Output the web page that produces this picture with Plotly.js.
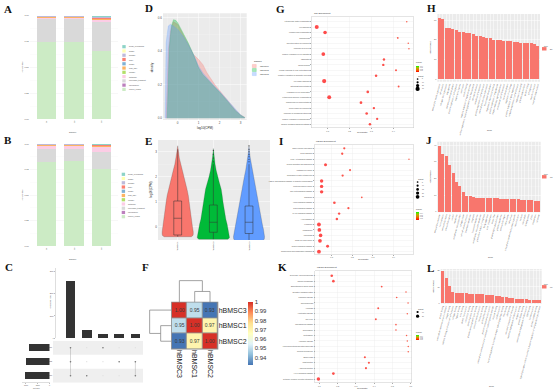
<!DOCTYPE html>
<html><head><meta charset="utf-8">
<script src="https://cdn.plot.ly/plotly-3.0.1.min.js"></script>
<style>html,body{margin:0;padding:0;background:#fff}#chart{width:554px;height:390px}</style>
</head><body><div id="chart"></div>
<script>
// ================= DATA =================
// A / B : biotype composition (legend order, top -> bottom)
const samples = ["S1","S2","S3"];
const biotypes = ["sense_overlapping","snRNA","snoRNA","rRNA","miRNA","misc_RNA","lincRNA","antisense","processed_transcript","pseudogene","protein_coding"];
const biotypeColors = ["#8dd3c7","#ffffb3","#bebada","#fb8072","#80b1d3","#fdb462","#b3de69","#fccde5","#d9d9d9","#bc80bd","#ccebc5"];
const fracA = [[.004,.003,.011],[.002,.003,.004],[.002,.002,.003],[.008,.006,.012],[.001,.001,.002],[.004,.004,.005],[.002,.002,.002],[.012,.012,.018],[.216,.222,.284],[.001,.001,.001],[.748,.743,.658]];
const fracB = [[.003,.003,.005],[.001,.001,.002],[.001,.001,.002],[.006,.006,.012],[.001,.001,.001],[.003,.003,.005],[.002,.002,.003],[.033,.028,.048],[.129,.121,.163],[.001,.001,.001],[.820,.833,.758]];
const pctTicks = [0,0.25,0.5,0.75,1];
const pctLabels = ["0.00","0.25","0.50","0.75","1.00"];

// C : UpSet
const setNames = ["hBMSC1","hBMSC2","hBMSC3"];
const setSizes = [2670,2930,3180];
const interSizes = [2590,360,170,165,160];
const interMembers = [[0,1,2],[2],[0],[1],[1,2]];

// D : density of log10(CPM)
const sampleNames = ["hBMSC1","hBMSC2","hBMSC3"];
const densX1 = [-0.55,-0.45,-0.35,-0.2,0,0.25,0.5,0.75,1.0,1.2,1.4,1.6,1.8,2.0,2.25,2.5,2.75,3.0,3.2];
const densY1 = [0,0.40,0.52,0.575,0.56,0.50,0.44,0.38,0.35,0.32,0.27,0.23,0.195,0.165,0.125,0.085,0.05,0.02,0.005];
const densX2 = [-0.5,-0.4,-0.3,-0.2,-0.1,0,0.25,0.5,0.75,1.0,1.2,1.4,1.6,1.8,2.0,2.25,2.5,2.75,3.0,3.2];
const densY2 = [0,0.42,0.55,0.588,0.585,0.57,0.51,0.45,0.38,0.30,0.26,0.235,0.21,0.18,0.155,0.12,0.08,0.045,0.018,0.004];
const densX3 = [-0.6,-0.55,-0.45,-0.35,-0.2,0,0.25,0.5,0.75,1.0,1.2,1.4,1.6,1.8,2.0,2.25,2.5,2.75,3.0,3.2];
const densY3 = [0,0.45,0.55,0.56,0.55,0.53,0.49,0.44,0.38,0.31,0.27,0.24,0.21,0.185,0.16,0.125,0.085,0.05,0.02,0.004];

// E : violin profiles (relative width) and box statistics
const vioY1 = [-0.4,-0.35,-0.3,-0.2,0,0.25,0.5,0.75,1.0,1.25,1.5,1.75,2.0,2.25,2.5,2.75,3.0,3.24];
const vioW1 = [0.85,0.95,0.97,0.97,0.92,0.87,0.83,0.78,0.72,0.66,0.58,0.48,0.38,0.28,0.18,0.10,0.05,0];
const vioY2 = [-0.5,-0.45,-0.4,-0.3,-0.1,0.1,0.3,0.5,0.75,1.0,1.25,1.5,1.75,2.0,2.25,2.5,2.75,3.0,3.13];
const vioW2 = [0.9,1.0,1.0,0.98,0.93,0.86,0.78,0.72,0.65,0.60,0.55,0.49,0.38,0.27,0.18,0.11,0.06,0.02,0];
const vioY3 = [-0.55,-0.5,-0.4,-0.3,-0.1,0.1,0.3,0.5,0.75,1.0,1.25,1.5,1.75,2.0,2.25,2.5,2.75,3.0,3.24];
const vioW3 = [0.85,0.95,0.97,0.96,0.90,0.83,0.77,0.72,0.66,0.60,0.52,0.44,0.36,0.29,0.21,0.14,0.08,0.03,0];
const boxQ1 = [-0.33,-0.22,-0.27];
const boxMed = [0.34,0.18,0.18];
const boxQ3 = [1.03,0.87,0.83];
const boxLo = [-0.4,-0.5,-0.55];
const boxHi = [3.1,2.5,2.5];
const outY2 = [2.6,2.75,2.9,3.05];
const outY3 = [2.6,2.7,2.8,2.9,3.0,3.1,3.24];

// F : correlation heatmap
const corrNames = ["hBMSC3","hBMSC1","hBMSC2"];
const corrZ = [[1.00,0.95,0.93],[0.95,1.00,0.97],[0.93,0.97,1.00]];
const mergeHeights = [0.03,0.06];
const corrTicks = [0.94,0.95,0.96,0.97,0.98,0.99,1];
const corrTickText = ["0.94","0.95","0.96","0.97","0.98","0.99","1"];

// G : GO enrichment dot plot
const gTerms = ["extracellular matrix organization","cell adhesion","collagen fibril organization","angiogenesis","skeletal system development","response to hypoxia","positive regulation of cell migration","ossification","wound healing","cellular response to TGF-beta stimulus","negative regulation of apoptotic process","cell-matrix adhesion","osteoblast differentiation","regulation of cell proliferation","extracellular structure organization","endodermal cell differentiation","blood vessel development","response to mechanical stimulus","positive regulation of angiogenesis","integrin-mediated signaling pathway"];
const gRatio = [0.461,0.050,0.088,0.420,0.468,0.471,0.080,0.357,0.354,0.412,0.321,0.084,0.424,0.283,0.107,0.252,0.311,0.278,0.326,0.293];
const gCount = [3,28,24,6,3,3,25,12,12,8,13,30,7,14,27,15,12,14,11,13];
const gP = [0.004,0.0002,0.0003,0.003,0.004,0.004,0.0003,0.001,0.001,0.002,0.001,0.0001,0.002,0.001,0.0002,0.001,0.001,0.001,0.001,0.001];

// I : KEGG enrichment dot plot
const iTerms = ["ECM-receptor interaction","Focal adhesion","PI3K-Akt signaling pathway","Protein digestion and absorption","Pathways in cancer","Regulation of actin cytoskeleton","AGE-RAGE signaling pathway in diabetic complications","Proteoglycans in cancer","TGF-beta signaling pathway","Ribosome","Hippo signaling pathway","Rap1 signaling pathway","MAPK signaling pathway","Axon guidance","Lysosome","Phagosome","Amoebiasis","Small cell lung cancer","Relaxin signaling pathway","Complement and coagulation cascades"];
const iRatio = [0.161,0.151,0.475,0.070,0.189,0.153,0.051,0.051,0.051,0.246,0.113,0.181,0.136,0.125,0.038,0.040,0.046,0.043,0.080,0.038];
const iCount = [10,11,2,18,9,11,22,22,22,5,14,10,12,13,26,25,24,25,17,26];
const iP = [0.002,0.002,0.004,0.0005,0.002,0.002,0.0002,0.0002,0.0002,0.003,0.001,0.002,0.001,0.001,0.0001,0.0001,0.0001,0.0001,0.0005,0.0001];

// K : enrichment dot plot
const kTerms = ["Glycolysis / Gluconeogenesis","Carbon metabolism","Biosynthesis of amino acids","Oxidative phosphorylation","Parkinson disease","Thermogenesis","Apoptosis","Huntington disease","Cell cycle","p53 signaling pathway","Spliceosome","Proteasome","Alzheimer disease","Fluid shear stress and atherosclerosis","Cellular senescence","Endocytosis","Tight junction","Adherens junction","HIF-1 signaling pathway","Cytokine-cytokine receptor interaction"];
const kRatio = [0.168,0.177,0.441,0.574,0.523,0.585,0.422,0.581,0.409,0.519,0.519,0.577,0.581,0.586,0.586,0.349,0.371,0.355,0.177,0.095];
const kCount = [14,14,6,3,4,3,7,3,7,4,4,3,3,3,3,9,9,9,15,22];
const kP = [0.001,0.001,0.002,0.004,0.003,0.004,0.002,0.004,0.002,0.003,0.003,0.004,0.004,0.004,0.004,0.002,0.002,0.002,0.001,0.0002];

// H / J / L : bar charts of top terms
const hTerms = ["extracellular matrix organization","cell adhesion","collagen fibril organization","angiogenesis","skeletal system development","positive regulation of cell migration","response to hypoxia","ossification","wound healing","negative regulation of apoptotic process","cellular response to transforming growth factor beta stimulus","cell-matrix adhesion","osteoblast differentiation","positive regulation of cell proliferation","extracellular structure organization","blood vessel development","response to mechanical stimulus","positive regulation of angiogenesis","integrin-mediated signaling pathway","endodermal cell differentiation","heart development","regulation of cell shape","positive regulation of gene expression","negative regulation of cell proliferation","response to wounding","platelet degranulation","protein folding","cell migration","muscle contraction","neutrophil degranulation"];
const hVal = [31.2,30.3,25.8,25.8,25.2,24.9,23.7,23.7,23.6,23.4,23.0,21.9,21.9,21.5,21.0,21.0,19.8,19.8,19.8,19.5,19.5,19.3,19.0,18.6,18.5,18.5,18.5,18.1,17.8,16.9];
const jTerms = ["extracellular exosome","focal adhesion","extracellular matrix","extracellular space","cytosol","membrane","endoplasmic reticulum lumen","collagen trimer","cell-cell adherens junction","basement membrane","cytoplasm","lysosomal membrane","endoplasmic reticulum membrane","perinuclear region of cytoplasm","Golgi apparatus","actin cytoskeleton","stress fiber","platelet alpha granule lumen","plasma membrane","extracellular region","melanosome","cell surface","intracellular membrane-bounded organelle","mitochondrion","nucleus","microtubule","lamellipodium","Z disc","cytoskeleton","ribosome"];
const jVal = [39.6,34.4,33.4,28.0,23.4,18.0,15.4,12.0,9.6,9.4,9.0,8.4,8.4,8.2,8.2,8.0,8.0,8.0,7.8,7.8,7.6,7.6,7.4,7.4,7.2,7.2,7.0,6.8,6.6,6.4];
const lTerms = ["protein binding","extracellular matrix structural constituent","integrin binding","cadherin binding involved in cell-cell adhesion","collagen binding","heparin binding","actin binding","growth factor activity","calcium ion binding","identical protein binding","platelet-derived growth factor binding","structural molecule activity","fibronectin binding","poly(A) RNA binding","protein homodimerization activity","extracellular matrix structural constituent conferring tensile strength","enzyme binding","cytokine activity","transforming growth factor beta receptor signaling pathway binding","RNA binding","ATP binding","structural constituent of ribosome","metalloendopeptidase inhibitor activity","receptor binding","protein kinase binding","serine-type endopeptidase inhibitor activity","GTP binding","hormone activity","protein complex binding","signaling receptor activity involved in positive regulation of cell population proliferation"];
const lVal = [20.0,15.3,10.6,6.7,6.5,6.1,6.1,6.1,5.9,5.7,5.7,5.5,5.5,5.1,5.1,5.1,4.7,4.5,4.0,3.7,3.4,3.1,2.8,2.6,2.5,2.5,2.2,2.2,2.0,2.0];

// ================= HELPERS =================
const W=554, H=390;
const dX=(a,b)=>[a/W,b/W];
const dY=(t,b)=>[1-b/H,1-t/H];
const FONT='Liberation Sans, Arial, sans-serif';
const TXT='#4d4d4d';
const traces=[], shapes=[], annotations=[];
function ax(o){return Object.assign({showgrid:false,zeroline:false,showline:false,ticks:'',showticklabels:false,fixedrange:true,automargin:false,tickfont:{size:2.2,color:TXT}},o);}
function txt(x,y,t,o){annotations.push(Object.assign({xref:'paper',yref:'paper',x:x/W,y:1-y/H,text:t,showarrow:false,font:{size:2.2,color:TXT},xanchor:'center',yanchor:'middle'},o||{}));}
function rect(x0,y0,x1,y1,fill,o){shapes.push(Object.assign({type:'rect',xref:'paper',yref:'paper',x0:x0/W,x1:x1/W,y0:1-y1/H,y1:1-y0/H,fillcolor:fill,line:{width:0},layer:'below'},o||{}));}
function circ(cx,cy,d,fill){const r=d/2;shapes.push({type:'circle',xref:'paper',yref:'paper',x0:(cx-r)/W,x1:(cx+r)/W,y0:1-(cy+r)/H,y1:1-(cy-r)/H,fillcolor:fill,line:{width:0},layer:'above'});}
const gridW={showgrid:true,gridcolor:'#ffffff',gridwidth:0.5};
const sizeOf=c=>1.2+0.1*c;
const pScale=[[0,'#ff0000'],[0.25,'#f25500'],[0.5,'#d98e00'],[0.75,'#9fc400'],[1,'#00ff00']];

const layout={width:W,height:H,margin:{l:0,r:0,t:0,b:0,autoexpand:false},paper_bgcolor:'#ffffff',plot_bgcolor:'rgba(0,0,0,0)',
  showlegend:false,hovermode:false,barmode:'stack',font:{family:FONT,size:3,color:TXT}};

// ================= A & B =================
function stackPanel(frac,xa,ya){
  for(let k=biotypes.length-1;k>=0;k--){
    traces.push({type:'bar',x:[0,1,2],y:frac[k],xaxis:xa,yaxis:ya,width:0.7,marker:{color:biotypeColors[k],line:{width:0}},hoverinfo:'skip'});
  }
}
stackPanel(fracA,'x','y');
stackPanel(fracB,'x2','y2');
const pctY=o=>ax(Object.assign({range:[0,1],tickvals:pctTicks,ticktext:pctLabels,showticklabels:true,showgrid:true,gridcolor:'#ebebeb',gridwidth:0.4,
  minor:{tickvals:[0.125,0.375,0.625,0.875],showgrid:true,gridcolor:'#f4f4f4',gridwidth:0.3}},o));
const smpX=o=>ax(Object.assign({range:[-0.6,2.6],tickvals:[0,1,2],ticktext:samples,showticklabels:true,tickangle:-90},o));
layout.xaxis=smpX({domain:dX(29.8,118),anchor:'y'});
layout.yaxis=pctY({domain:dY(15.7,119),anchor:'x'});
layout.xaxis2=smpX({domain:dX(29.8,118),anchor:'y2'});
layout.yaxis2=pctY({domain:dY(144,246),anchor:'x2'});
txt(21.5,67,'percentage',{textangle:-90});
txt(73,131.5,'Sample');
txt(21.5,195,'percentage',{textangle:-90});
txt(73,258.5,'Sample');
function biotypeLegend(x,y0,step){
  biotypes.forEach((b,k)=>{const y=y0+k*step;rect(x,y-1.6,x+3.4,y+1.6,biotypeColors[k],{layer:'above'});txt(x+4.4,y,b,{xanchor:'left',font:{size:1.8,color:TXT}});});
}
biotypeLegend(122.3,46.7,4.27);
biotypeLegend(121.7,174.3,4.24);

// ================= C (UpSet) =================
traces.push({type:'bar',x:interSizes.map((_,i)=>i),y:interSizes,xaxis:'x3',yaxis:'y3',width:0.6,marker:{color:'#333333',line:{width:0}}});
layout.xaxis3=ax({domain:dX(53,143),range:[-1.08,4.47],anchor:'y3'});
layout.yaxis3=ax({domain:dY(268,338),range:[0,3167],anchor:'free',position:55/W,tickvals:[0,1000,2000,3000],showticklabels:true,showline:true,linecolor:'#bdbdbd',linewidth:0.5,ticks:'outside',ticklen:1,tickcolor:'#bdbdbd',tickfont:{size:1.8,color:TXT}});
[0,2].forEach(r=>shapes.push({type:'rect',xref:'paper',yref:'y4',x0:53/W,x1:143/W,y0:r-0.5,y1:r+0.5,fillcolor:'#efefef',line:{width:0},layer:'below'}));
const gx=[],gy=[];interSizes.forEach((_,c)=>setNames.forEach((_,r)=>{gx.push(c);gy.push(r);}));
traces.push({type:'scatter',mode:'markers',x:gx,y:gy,xaxis:'x4',yaxis:'y4',marker:{size:1.3,color:'#e0e0e0'}});
const lx=[],ly=[],ax2=[],ay2=[];
interMembers.forEach((m,c)=>{m.forEach(r=>{ax2.push(c);ay2.push(r);}); if(m.length>1){lx.push(c,c,null);ly.push(Math.min(...m),Math.max(...m),null);} });
traces.push({type:'scatter',mode:'lines',x:lx,y:ly,xaxis:'x4',yaxis:'y4',line:{color:'#9a9a9a',width:0.4}});
traces.push({type:'scatter',mode:'markers',x:ax2,y:ay2,xaxis:'x4',yaxis:'y4',marker:{size:1.6,color:'#777'}});
layout.xaxis4=ax({domain:dX(53,143),range:[-1.08,4.47],anchor:'y4'});
layout.yaxis4=ax({domain:dY(340.7,382.7),range:[2.5,-0.5],anchor:'x4',tickvals:[0,1,2],ticktext:setNames,showticklabels:true,tickfont:{size:1.8,color:TXT}});
traces.push({type:'bar',orientation:'h',x:setSizes,y:[0,1,2],xaxis:'x5',yaxis:'y5',width:0.48,marker:{color:'#333333',line:{width:0}}});
layout.xaxis5=ax({domain:dX(22,49.5),range:[3500,0],anchor:'y5',tickvals:[0,1500,3000],showticklabels:true,showline:true,linecolor:'#bdbdbd',linewidth:0.5,ticks:'outside',ticklen:1,tickcolor:'#bdbdbd',tickfont:{size:1.8,color:TXT}});
layout.yaxis5=ax({domain:dY(340.7,382.7),range:[2.5,-0.5],anchor:'x5'});
txt(49.5,302,'Intersection Size',{textangle:-90,font:{size:1.8,color:TXT}});
txt(36,388,'Set Size',{font:{size:1.8,color:TXT}});

// ================= D (density) =================
rect(163,13.3,246.7,120,'#ebebeb');
const sCol=['248,118,109','0,186,56','97,156,255'];
[[densX1,densY1],[densX2,densY2],[densX3,densY3]].forEach((d,i)=>{
  traces.push({type:'scatter',mode:'lines',x:d[0],y:d[1],xaxis:'x6',yaxis:'y6',fill:'tozeroy',fillcolor:'rgba('+sCol[i]+',0.33)',line:{color:'rgba('+sCol[i]+',0.55)',width:0.4}});
});
layout.xaxis6=ax(Object.assign({domain:dX(163,246.7),range:[-0.7,3.286],anchor:'y6',tickvals:[0,1,2,3],showticklabels:true,tickfont:{size:3,color:TXT},
  minor:{tickvals:[-0.5,0.5,1.5,2.5],showgrid:true,gridcolor:'#f5f5f5',gridwidth:0.3}},gridW));
layout.yaxis6=ax(Object.assign({domain:dY(13.3,120),range:[-0.0101,0.626],anchor:'x6',tickvals:[0,0.2,0.4,0.6],ticktext:['0.0','0.2','0.4','0.6'],showticklabels:true,tickfont:{size:3,color:TXT},
  minor:{tickvals:[0.1,0.3,0.5],showgrid:true,gridcolor:'#f5f5f5',gridwidth:0.3}},gridW));
txt(152.3,67,'density',{textangle:-90,font:{size:3,color:'#222'}});
txt(205,128,'log10(CPM)',{font:{size:3,color:'#222'}});
txt(252.3,61.7,'sample',{xanchor:'left',font:{size:2.4,color:'#222'}});
sampleNames.forEach((s,i)=>{const y=66+i*4;rect(252.3,y-1.6,256.3,y+1.6,'rgba('+sCol[i]+',0.35)',{layer:'above',line:{color:'rgba('+sCol[i]+',0.6)',width:0.3}});txt(257.5,y,s,{xanchor:'left',font:{size:2.2,color:TXT}});});

// ================= E (violin + box) =================
rect(158,140,270,240,'#ebebeb');
const vCol=['#F8766D','#00BA38','#619CFF'];
[[vioY1,vioW1],[vioY2,vioW2],[vioY3,vioW3]].forEach((v,i)=>{
  const xs=[],ys=[];
  v[0].forEach((y,k)=>{xs.push(i+v[1][k]*0.45);ys.push(y);});
  for(let k=v[0].length-1;k>=0;k--){xs.push(i-v[1][k]*0.45);ys.push(v[0][k]);}
  xs.push(xs[0]);ys.push(ys[0]);
  traces.push({type:'scatter',mode:'lines',x:xs,y:ys,xaxis:'x7',yaxis:'y7',fill:'toself',fillcolor:vCol[i],line:{color:'rgba(60,60,60,0.55)',width:0.4}});
});
const bw=0.11, bx=[], by=[];
boxQ1.forEach((q1,i)=>{
  bx.push(i-bw,i+bw,i+bw,i-bw,i-bw,null, i-bw,i+bw,null, i,i,null, i,i,null);
  by.push(q1,q1,boxQ3[i],boxQ3[i],q1,null, boxMed[i],boxMed[i],null, boxQ3[i],boxHi[i],null, boxLo[i],q1,null);
});
traces.push({type:'scatter',mode:'lines',x:bx,y:by,xaxis:'x7',yaxis:'y7',line:{color:'#333',width:0.5}});
traces.push({type:'scatter',mode:'markers',x:outY2.map(()=>1).concat(outY3.map(()=>2)),y:outY2.concat(outY3),xaxis:'x7',yaxis:'y7',marker:{size:1.2,color:'#333'}});
layout.xaxis7=ax(Object.assign({domain:dX(158,270),range:[-0.553,2.589],anchor:'y7',tickvals:[0,1,2],ticktext:sampleNames,showticklabels:true,tickangle:-90,tickfont:{size:2.4,color:TXT}},gridW));
layout.yaxis7=ax(Object.assign({domain:dY(140,240),range:[-0.53,3.47],anchor:'x7',tickvals:[0,1,2,3],showticklabels:true,tickfont:{size:3,color:TXT},
  minor:{tickvals:[-0.5,0.5,1.5,2.5],showgrid:true,gridcolor:'#f5f5f5',gridwidth:0.3}},gridW));
txt(150.5,190,'log10(CPM)',{textangle:-90,font:{size:3,color:'#222'}});

// ================= F (correlation heatmap) =================
rect(171.1,301.7,218.3,349.6,'#8c8c8c');
traces.push({type:'heatmap',z:corrZ,x:[0,1,2],y:[0,1,2],xaxis:'x8',yaxis:'y8',coloraxis:'coloraxis',xgap:0.8,ygap:0.8,
  texttemplate:'%{z:.2f}',textfont:{size:5,color:'#3a3a3a'}});
layout.xaxis8=ax({domain:dX(171.7,217.7),range:[-0.5,2.5],anchor:'y8',tickvals:[0,1,2],ticktext:corrNames,showticklabels:true,tickangle:90,tickfont:{size:7,color:'#222'}});
layout.yaxis8=ax({domain:dY(302.3,349),range:[2.5,-0.5],anchor:'x8',side:'right',tickvals:[0,1,2],ticktext:corrNames,showticklabels:true,tickfont:{size:7,color:'#222'}});
layout.coloraxis={cmin:0.932,cmax:1,colorscale:[[0,'#4575B4'],[0.1667,'#91BFDB'],[0.3333,'#E0F3F8'],[0.5,'#FFFFBF'],[0.6667,'#FEE090'],[0.8333,'#FC8D59'],[1,'#D73027']],
  colorbar:{x:248/W,xanchor:'left',y:1-302/H,yanchor:'top',len:63,lenmode:'pixels',thickness:4.5,thicknessmode:'pixels',tickvals:corrTicks,ticktext:corrTickText,
  tickfont:{size:6,color:'#333'},ticks:'',outlinewidth:0,xpad:0,ypad:0}};
const h1=mergeHeights[0],h2=mergeHeights[1];
traces.push({type:'scatter',mode:'lines',x:[1,1,2,2,null,0,0,1.5,1.5],y:[0,h1,h1,0,null,0,h2,h2,h1],xaxis:'x9',yaxis:'y9',line:{color:'#8c8c8c',width:0.8}});
layout.xaxis9=ax({domain:dX(171.7,217.7),range:[-0.5,2.5],anchor:'y9'});
layout.yaxis9=ax({domain:dY(279,302.3),range:[0,0.0645],anchor:'x9'});
traces.push({type:'scatter',mode:'lines',y:[1,1,2,2,null,0,0,1.5,1.5],x:[0,h1,h1,0,null,0,h2,h2,h1],xaxis:'x10',yaxis:'y10',line:{color:'#8c8c8c',width:0.8}});
layout.xaxis10=ax({domain:dX(148,171.7),range:[0.0645,0],anchor:'y10'});
layout.yaxis10=ax({domain:dY(302.3,349),range:[2.5,-0.5],anchor:'x10'});

// ================= G / I / K (dot plots) =================
function dotPanel(n,terms,ratio,count,pv,xd,yd,xr,yr,xt,cax,title,tx,ty){
  const xa='x'+n, ya='y'+n;
  traces.push({type:'scatter',mode:'markers',x:ratio,y:terms.map((_,i)=>i),xaxis:xa,yaxis:ya,
    marker:{size:count.map(sizeOf),color:pv,coloraxis:cax,line:{width:0}}});
  const common={showgrid:true,gridcolor:'#ebebeb',gridwidth:0.4,showline:true,mirror:true,linecolor:'#c9c9c9',linewidth:0.5,ticks:'outside',ticklen:1,tickcolor:'#aaa'};
  layout['xaxis'+n]=ax(Object.assign({domain:xd,range:xr,anchor:ya,tickvals:xt,showticklabels:true,tickfont:{size:2,color:TXT}},common));
  layout['yaxis'+n]=ax(Object.assign({domain:yd,range:yr,anchor:xa,tickvals:terms.map((_,i)=>i),ticktext:terms,showticklabels:true,tickfont:{size:1.8,color:TXT}},common));
  txt(tx,ty,title,{xanchor:'left',font:{size:2.4,color:'#333'}});
}
dotPanel(11,gTerms,gRatio,gCount,gP,dX(311.7,413.3),dY(16.7,127.7),[0.027,0.491],[19.63,-0.93],[0.1,0.2,0.3,0.4],'coloraxis2','GO Enrichment',311.7,13.6);
dotPanel(13,iTerms,iRatio,iCount,iP,dX(314.3,413.3),dY(145,254),[0.0155,0.496],[19.42,-0.61],[0.1,0.2,0.3,0.4],'coloraxis3','KEGG Enrichment',314.3,141.8);
dotPanel(15,kTerms,kRatio,kCount,kP,dX(315,411.7),dY(270.7,382.7),[0.0765,0.605],[19.68,-0.92],[0.1,0.2,0.3,0.4,0.5,0.6],'coloraxis4','KEGG Enrichment',315,267.6);
txt(362,131.5,'GeneRatio',{font:{size:2.2,color:'#333'}});
txt(363,258.5,'GeneRatio',{font:{size:2.2,color:'#333'}});
txt(362,388,'GeneRatio',{font:{size:2.2,color:'#333'}});
function pBar(y0,len){return {cmin:0,cmax:0.05,colorscale:pScale,colorbar:{x:416/W,xanchor:'left',y:1-y0/H,yanchor:'top',len:len,lenmode:'pixels',thickness:2.8,thicknessmode:'pixels',
  tickvals:[0.01,0.02,0.03,0.04],tickfont:{size:1.5,color:TXT},ticks:'',outlinewidth:0,xpad:0,ypad:0,title:{text:'pvalue',side:'top',font:{size:2,color:'#333'}}}};}
layout.coloraxis2=pBar(58.5,13.4);
layout.coloraxis3=pBar(205,15);
layout.coloraxis4=pBar(328,12);
function sizeLegend(x,y0,step,counts){
  txt(x,y0-3.2,'Count',{xanchor:'left',font:{size:2,color:'#333'}});
  counts.forEach((c,k)=>{const y=y0+k*step;circ(x+1.6,y,sizeOf(c),'#000');txt(x+4,y,String(c),{xanchor:'left',font:{size:1.6,color:TXT}});});
}
sizeLegend(416,79,3.3,[5,10,20,30]);
sizeLegend(416,182,3.7,[5,10,15,20,25]);
sizeLegend(416,312,4.2,[10,20]);

// ================= H / J / L (bar charts) =================
function barPanel(n,terms,vals,xd,yd,yr,yt,tag,legY,tX,tY){
  const xa='x'+n, ya='y'+n;
  rect(xd[0]*W,(1-yd[1])*H,xd[1]*W,(1-yd[0])*H,'#ebebeb');
  traces.push({type:'bar',x:terms.map((_,i)=>i),y:vals,xaxis:xa,yaxis:ya,width:0.9,marker:{color:'#F8766D',line:{width:0}}});
  layout['xaxis'+n]=ax(Object.assign({domain:xd,range:[-0.6,terms.length-0.4],anchor:ya,tickvals:terms.map((_,i)=>i),ticktext:terms,showticklabels:true,tickangle:-75,tickfont:{size:2,color:TXT}},gridW));
  layout['yaxis'+n]=ax(Object.assign({domain:yd,range:yr,anchor:xa,tickvals:yt,showticklabels:true,tickfont:{size:2,color:TXT},
    minor:{tickvals:yt.map(v=>v+5),showgrid:true,gridcolor:'#f5f5f5',gridwidth:0.3}},gridW));
  txt(541.5,legY,'type',{xanchor:'left',font:{size:2,color:'#333'}});
  rect(542,legY+1.6,546.5,legY+5,'#F8766D',{layer:'above'});
  txt(547.5,legY+3.3,tag,{xanchor:'left',font:{size:1.8,color:TXT}});
  txt(tX,tY,'Term',{font:{size:2.2,color:'#333'}});
  const yMid=(1-(yd[0]+yd[1])/2)*H;
  txt(xd[0]*W-7,yMid,'-log10(pvalue)',{textangle:-90,font:{size:2,color:'#333'}});
}
barPanel(12,hTerms,hVal,dX(437.3,540),dY(14,81.7),[-1.37,33.05],[0,10,20,30],'BP',45.5,489,130);
barPanel(14,jTerms,jVal,dX(437.3,540.7),dY(141.7,212.3),[-0.36,42],[0,10,20,30,40],'CC',173.5,490,257);
barPanel(16,lTerms,lVal,dX(440.7,541.7),dY(269,303.8),[-0.3,21],[0,10,20],'MF',283.5,491,386);

// ================= panel letters =================
[['A',8,9],['B',8,140],['C',9,267],['D',149,8],['E',148,141],['F',145,267],['G',280,9],['H',431,8],['I',281,141],['J',429,140],['K',282,267],['L',430,268]]
 .forEach(p=>txt(p[1],p[2],'<b>'+p[0]+'</b>',{font:{family:'Liberation Serif, Times New Roman, serif',size:11,color:'#111'}}));

layout.shapes=shapes;
layout.annotations=annotations;
Plotly.newPlot('chart',traces,layout,{staticPlot:true,displayModeBar:false});
</script></body></html>
